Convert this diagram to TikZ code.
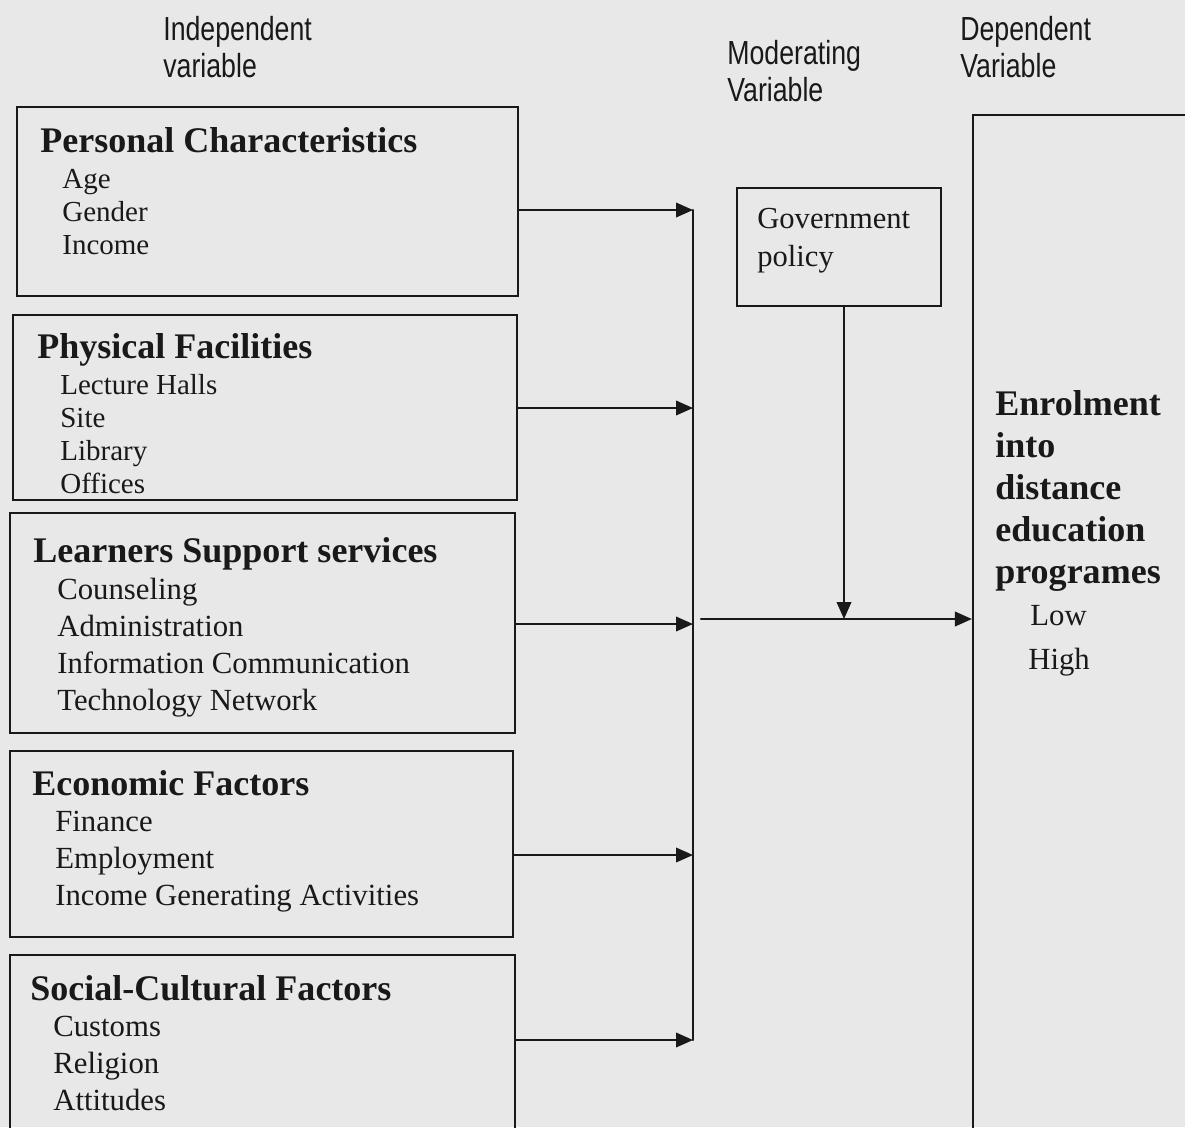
\documentclass[tikz,border=0pt]{standalone}
\usepackage{fontspec}
\setmainfont{Liberation Serif}
\newfontfamily\headfont{Liberation Sans}
\usepackage{graphicx}
\usetikzlibrary{arrows.meta, calc, positioning, fit}
\definecolor{scanPaper}{rgb}{0.91,0.91,0.91}
\definecolor{scanInk}{rgb}{0.1,0.1,0.1}
\newcommand{\narrowtxt}[1]{\scalebox{0.8}[1]{#1}}
\tikzset{
	factor/.style={draw=scanInk, line width=1.2pt, inner sep=0pt},
	title/.style={anchor=west, inner sep=0pt, yshift=-0.1cm, text=scanInk, text height=.66em, text depth=0pt, font=\fontsize{20.5}{24}\selectfont\bfseries},
	item/.style={anchor=west, inner sep=0pt, yshift=-0.1cm, text=scanInk, text height=.66em, text depth=0pt, font=\fontsize{#1}{20}\selectfont},
	item/.default=17.5,
	head/.style={anchor=west, inner sep=0pt, align=left, text=scanInk, font=\fontsize{19}{21}\selectfont\headfont},
	wire/.style={draw=scanInk, line width=1.2pt},
	flow/.style={wire, -{Triangle[length=0.34cm, width=0.29cm]}}
}

\begin{document}
\begin{tikzpicture}[x=0.02cm, y=-0.02cm, line cap=round]

  \useasboundingbox (0,0) rectangle (1185,1127);
  \fill[scanPaper] (0,0) rectangle (1185,1127);
  \clip (0,0) rectangle (1185,1127);

  % column headings
  \node[head] (hI) at (163,47) {\narrowtxt{Independent}\\\narrowtxt{variable}};
  \node[head] (hM) at (727,71) {\narrowtxt{Moderating}\\\narrowtxt{Variable}};
  \node[head] (hD) at (960,47) {\narrowtxt{Dependent}\\\narrowtxt{Variable}};

  % independent variables
  \node[factor, fit={(17,107) (518,296)}] (pc) {};
  \node[title] (pc-t) at (40,142) {Personal Characteristics};
  \foreach \t [count=\i from 0] in {Age, Gender, Income}
    \node[item=16.5] (pc-\i) at (62,178+33*\i) {\t};

  \node[factor, fit={(13,315) (517,500)}] (pf) {};
  \node[title] (pf-t) at (37,348) {Physical Facilities};
  \foreach \t [count=\i from 0] in {Lecture Halls, Site, Library, Offices}
    \node[item=16.5] (pf-\i) at (60,384+33*\i) {\t};

  \node[factor, fit={(10,513) (515,733)}] (ls) {};
  \node[title] (ls-t) at (33,552) {Learners Support services};
  \foreach \t [count=\i from 0] in {Counseling, Administration, Information Communication, Technology Network}
    \node[item] (ls-\i) at (57,589+37*\i) {\t};

  \node[factor, fit={(10,751) (513,937)}] (ef) {};
  \node[title] (ef-t) at (32,785) {Economic Factors};
  \foreach \t [count=\i from 0] in {Finance, Employment, Income Generating Activities}
    \node[item] (ef-\i) at (55,821+37*\i) {\t};

  \node[factor, fit={(10,955) (515,1150)}] (sc) {};
  \node[title] (sc-t) at (30,990) {Social-Cultural Factors};
  \foreach \t [count=\i from 0] in {Customs, Religion, Attitudes}
    \node[item] (sc-\i) at (53,1026+37*\i) {\t};

  % moderating variable
  \node[factor, fit={(737,188) (941,306)}] (gp) {};
  \node[item=17.4] (gp-0) at (757,218) {Government};
  \node[item=17.4] (gp-1) at (757,256) {policy};

  % dependent variable
  \node[factor, fit={(973,115) (1200,1150)}] (dv) {};
  \foreach \t [count=\i from 0] in {Enrolment, into, distance, education, programes}
    \node[title] (dv-\i) at (995,405+42*\i) {\t};
  \node[item] (dv-lo) at (1030,615) {Low};
  \node[item] (dv-hi) at (1028,659) {High};

  % arrows into the collector
  \foreach \n/\y in {pc/210, pf/408, ls/624, ef/855, sc/1040}{
    \coordinate (k-\n) at (693,\y);
    \draw[flow] (\n.east |- k-\n) -- (k-\n);
  }
  \draw[wire] (k-pc) -- (k-sc);

  \coordinate (j) at (701,619);
  \coordinate (g) at (844,619);
  \draw[flow] (gp.south -| g) -- (g);
  \draw[flow] (j) -- (j -| dv.west);

\end{tikzpicture}
\end{document}
